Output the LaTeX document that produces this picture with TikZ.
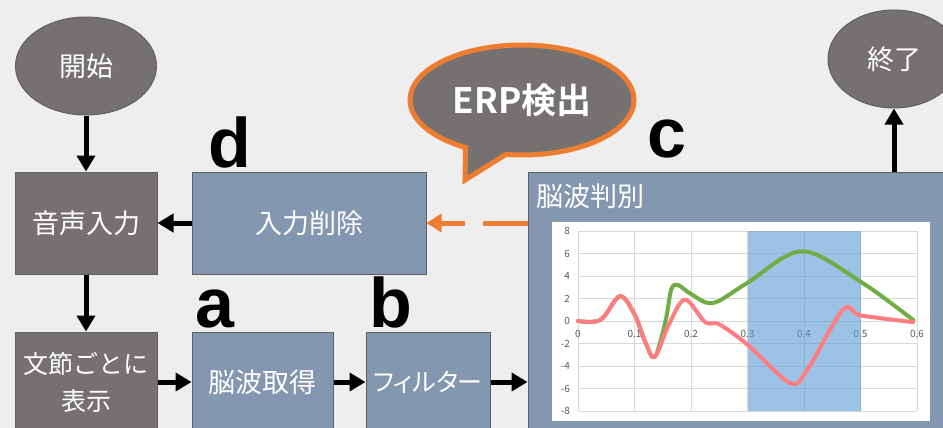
\documentclass[tikz,border=0pt]{standalone}
\usepackage{fontspec}
\setmainfont{Noto Sans CJK JP}[BoldFont={Noto Sans CJK JP Bold}]
\newfontfamily\lbl{Liberation Sans}
\usetikzlibrary{arrows.meta,shapes.geometric,shapes.callouts}

\definecolor{bggray}{HTML}{EEEEEE}
\definecolor{boxgray}{HTML}{767171}
\definecolor{boxblue}{HTML}{8497B0}
\definecolor{edgegray}{HTML}{5F5F5F}
\definecolor{erporange}{HTML}{ED7D31}
\definecolor{gridgray}{HTML}{D9D9D9}
\definecolor{ticktext}{HTML}{595959}
\definecolor{hilite}{HTML}{5B9BD5}
\definecolor{ergreen}{HTML}{70AD47}
\definecolor{erred}{HTML}{FF7C80}

\begin{document}
\begin{tikzpicture}[x=1pt,y=-1pt,
  grayblock/.style={draw=edgegray,line width=1pt,fill=boxgray,text=white,inner sep=0pt,font=\fontsize{27}{30}\selectfont},
  blueblock/.style={grayblock,fill=boxblue},
  terminal/.style={grayblock,ellipse},
  flowarrow/.style={-{Triangle[length=16pt,width=18pt]},line width=5pt},
  dasharrow/.style={-{Triangle[length=15pt,width=18pt]},line width=5pt,erporange,dash pattern=on 45pt off 18pt},
  steplabel/.style={anchor=base,inner sep=0pt,font=\fontsize{70}{70}\selectfont\lbl\bfseries},
  ticklabel/.style={text=ticktext,inner sep=1pt,font=\fontsize{10}{10}\selectfont}]
\useasboundingbox (0,0) rectangle (943,428);
\fill[bggray] (0,0) rectangle (943,428);
\clip (0,0) rectangle (943,428);

% flow boxes
\node[terminal,minimum width=141pt,minimum height=98pt] (start) at (86,66) {開始};
\node[grayblock,minimum width=142pt,minimum height=102pt] (voice) at (86,223) {音声入力};
\node[blueblock,minimum width=234pt,minimum height=102pt] (erase) at (309,223) {入力削除};
\node[grayblock,minimum width=142pt,minimum height=100pt,align=center,font=\fontsize{25}{37}\selectfont] (show) at (86,382) {文節ごとに\\表示};
\node[blueblock,minimum width=141pt,minimum height=100pt] (eeg) at (262.5,382) {脳波取得};
\node[blueblock,minimum width=124pt,minimum height=100pt,font=\fontsize{25}{30}\selectfont\addfontfeatures{RawFeature=+palt}] (filter) at (428,382) {フィルター};
\node[blueblock,minimum width=430pt,minimum height=270pt] (judge) at (743,307) {};
\node[anchor=west,text=white,inner sep=0pt,font=\fontsize{27}{30}\selectfont] (judgetitle) at (536,196) {脳波判別};
\node[terminal,minimum width=132pt,minimum height=98pt] (finish) at (894,59) {終了};

% speech bubble
\coordinate (tip) at (465,180);
\node[ellipse callout,draw=erporange,line width=5pt,fill=boxgray,text=white,inner sep=0pt,
  minimum width=224pt,minimum height=110pt,callout absolute pointer={(tip)},callout pointer arc=22,
  font=\fontsize{35}{35}\selectfont\bfseries] (erp) at (522,100) {ERP検出};

% step letters
\node[steplabel] (lbld) at (230,167) {d};
\node[steplabel] (lbla) at (215,327) {a};
\node[steplabel] (lblb) at (391,327) {b};
\node[steplabel] (lblc) at (667,157) {c};

% connectors
\draw[flowarrow] (start) -- (voice);
\draw[flowarrow] (voice) -- (show);
\draw[flowarrow] (erase) -- (voice);
\draw[flowarrow] (show) -- (eeg);
\draw[flowarrow] (eeg) -- (filter);
\draw[flowarrow] (filter) -- (filter -| judge.west);
\draw[flowarrow] (judge.north -| finish) -- (finish);
\draw[dasharrow] (erase -| judge.west) -- (erase);

% chart
\fill[white] (552,222) rectangle (930,421);
\begin{scope}[shift={(578,321)},x=565pt,y=11.25pt]
\foreach \gx in {0,...,6} \draw[gridgray,line width=1pt] (\gx/10,-8) -- (\gx/10,8);
\foreach \gy in {-8,-6,...,8} \draw[gridgray,line width=1pt] (0,\gy) -- (0.6,\gy);
\foreach \gy in {-8,-6,...,8} \node[ticklabel,anchor=east] at ([xshift=-7pt]0,\gy) {\gy};
\foreach \gx/\gt in {0/0,1/0.1,2/0.2,3/0.3,4/0.4,5/0.5,6/0.6}
  \node[ticklabel,anchor=north] at ([yshift=-8pt]\gx/10,0) {\gt};
\fill[hilite,opacity=0.6] (0.3,-8) rectangle (0.5,8);
\draw[ergreen,line width=4pt,line join=round,line cap=round] plot[smooth,tension=0.55] coordinates {
  (0,0) (0.04,0.1) (0.074,2.2) (0.1,0.6) (0.12,-2) (0.136,-3.2) (0.155,0) (0.165,2.8) (0.177,3.2)
  (0.2,2.4) (0.239,1.6) (0.3,3.4) (0.396,6.2) (0.5,3.5) (0.593,0.1)};
\draw[erred,line width=4pt,line join=round,line cap=round] plot[smooth,tension=0.55] coordinates {
  (0,0) (0.04,0.1) (0.074,2.2) (0.1,0.6) (0.12,-2) (0.136,-3.2) (0.16,-0.4) (0.189,1.9) (0.225,-0.1)
  (0.25,-0.3) (0.3,-2.1) (0.375,-5.5) (0.405,-4.4) (0.469,1.0) (0.5,0.5) (0.593,-0.1)};
\end{scope}
\end{tikzpicture}
\end{document}
